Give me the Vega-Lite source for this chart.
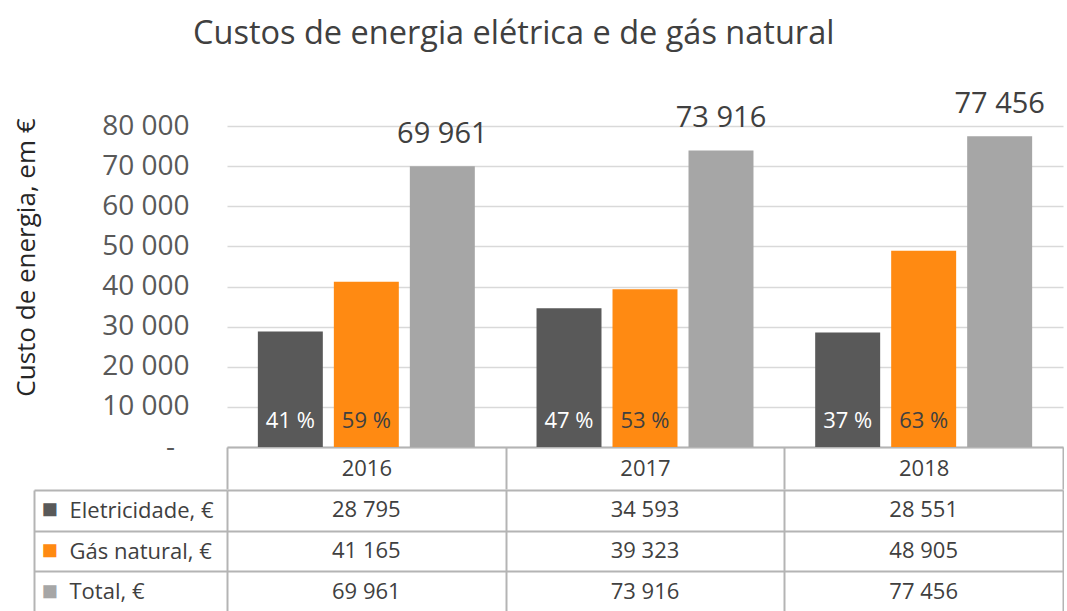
{
  "$schema": "https://vega.github.io/schema/vega-lite/v6.json",
  "padding": {"left": 13, "top": 17, "right": 0, "bottom": 0},
  "background": "white",
  "config": {
    "font": "Open Sans",
    "locale": {"number": {"decimal": ",", "thousands": " ", "grouping": [3], "currency": ["", " €"]}},
    "view": {"stroke": null}
  },
  "title": {
    "text": "Custos de energia elétrica e de gás natural",
    "fontSize": 32.5,
    "fontWeight": "normal",
    "color": "#404040",
    "anchor": "start",
    "frame": "bounds",
    "dx": 180,
    "offset": 40
  },
  "datasets": {
    "costs": [
      {"year": "2016", "series": "Eletricidade, €", "value": 28795, "pct": "41 %"},
      {"year": "2016", "series": "Gás natural, €", "value": 41165, "pct": "59 %"},
      {"year": "2016", "series": "Total, €", "value": 69961, "pct": ""},
      {"year": "2017", "series": "Eletricidade, €", "value": 34593, "pct": "47 %"},
      {"year": "2017", "series": "Gás natural, €", "value": 39323, "pct": "53 %"},
      {"year": "2017", "series": "Total, €", "value": 73916, "pct": ""},
      {"year": "2018", "series": "Eletricidade, €", "value": 28551, "pct": "37 %"},
      {"year": "2018", "series": "Gás natural, €", "value": 48905, "pct": "63 %"},
      {"year": "2018", "series": "Total, €", "value": 77456, "pct": ""}
    ]
  },
  "spacing": -11,
  "vconcat": [
    {
      "width": 836,
      "height": 321,
      "data": {"name": "costs"},
      "encoding": {
        "x": {
          "field": "year", "type": "nominal",
          "scale": {"paddingInner": 0, "paddingOuter": 0},
          "axis": {
            "title": null, "orient": "bottom", "grid": false, "minExtent": 0,
            "domain": true, "domainColor": "#b4b4b4", "domainWidth": 2,
            "ticks": true, "tickBand": "extent", "tickSize": 42, "tickColor": "#b4b4b4", "tickWidth": 2,
            "labelAngle": 0, "labelFontSize": 22, "labelColor": "#404040", "labelPadding": -21, "labelBaseline": "middle"
          }
        },
        "xOffset": {
          "field": "series", "type": "nominal",
          "sort": ["Eletricidade, €", "Gás natural, €", "Total, €"],
          "scale": {"paddingInner": 0.145, "paddingOuter": 0.406}
        }
      },
      "layer": [
        {
          "mark": {"type": "bar"},
          "encoding": {
            "y": {
              "field": "value", "type": "quantitative",
              "scale": {"domain": [0, 80000], "nice": false},
              "axis": {
                "values": [0, 10000, 20000, 30000, 40000, 50000, 60000, 70000, 80000],
                "labelExpr": "datum.value === 0 ? '-\u00a0\u00a0\u200b' : format(datum.value, ',')",
                "domain": false, "ticks": false,
                "grid": true, "gridColor": "#d9d9d9", "gridWidth": 1.5,
                "labelFontSize": 28, "labelColor": "#595959", "labelPadding": 38,
                "title": "Custo de energia, em €", "titleFontSize": 26, "titleFontWeight": "normal", "titleColor": "#262626",
                "titleX": -201, "titleY": 131, "titleAngle": -90, "titleAlign": "center", "titleBaseline": "middle"
              }
            },
            "color": {
              "field": "series", "type": "nominal",
              "scale": {"domain": ["Eletricidade, €", "Gás natural, €", "Total, €"], "range": ["#595959", "#ff8a12", "#a6a6a6"]},
              "legend": null
            }
          }
        },
        {
          "transform": [{"filter": "datum.pct != ''"}],
          "mark": {"type": "text", "fontSize": 22, "baseline": "middle", "dy": -26},
          "encoding": {
            "y": {"datum": 0, "type": "quantitative"},
            "text": {"field": "pct"},
            "color": {"condition": {"test": "datum.series == 'Eletricidade, €'", "value": "#ffffff"}, "value": "#404040"}
          }
        },
        {
          "transform": [{"filter": "datum.series == 'Total, €'"}],
          "mark": {"type": "text", "fontSize": 29, "baseline": "middle", "dy": -32, "color": "#404040"},
          "encoding": {
            "y": {"field": "value", "type": "quantitative"},
            "text": {"field": "value", "type": "quantitative", "format": ","}
          }
        }
      ]
    },
    {
      "width": 836,
      "height": 122,
      "data": {"name": "costs"},
      "encoding": {
        "x": {
          "field": "year", "type": "nominal",
          "scale": {"paddingInner": 0, "paddingOuter": 0},
          "axis": {
            "title": null, "orient": "top", "domain": false, "ticks": false, "labels": false, "minExtent": 0, "maxExtent": 0,
            "grid": true, "tickBand": "extent", "gridColor": "#b4b4b4", "gridWidth": 2
          }
        }
      },
      "layer": [
        {
          "mark": {"type": "rect", "opacity": 0},
          "encoding": {
            "y": {
              "field": "series", "type": "nominal",
              "sort": ["Eletricidade, €", "Gás natural, €", "Total, €"],
              "scale": {"paddingInner": 0, "paddingOuter": 0},
              "axis": {
                "orient": "left", "offset": 193, "title": null,
                "domain": false, "ticks": false, "grid": false,
                "labelExpr": "'■'", "labelAlign": "left", "labelBaseline": "middle", "labelPadding": -7, "labelFontSize": 27,
                "labelColor": {"expr": "datum.value == 'Eletricidade, €' ? '#595959' : datum.value == 'Gás natural, €' ? '#ff8a12' : '#a6a6a6'"}
              }
            }
          }
        },
        {
          "mark": {"type": "text", "fontSize": 22, "color": "#404040", "baseline": "middle"},
          "encoding": {
            "y": {
              "field": "series", "type": "nominal",
              "sort": ["Eletricidade, €", "Gás natural, €", "Total, €"],
              "axis": {
                "orient": "left", "offset": 193, "title": null,
                "domain": true, "domainColor": "#b4b4b4", "domainWidth": 2,
                "ticks": true, "tickBand": "extent", "tickSize": -193, "tickColor": "#b4b4b4", "tickWidth": 2,
                "grid": true, "gridColor": "#b4b4b4", "gridWidth": 2,
                "labelAlign": "left", "labelBaseline": "middle", "labelPadding": 158, "labelFontSize": 22, "labelColor": "#404040"
              }
            },
            "text": {"field": "value", "type": "quantitative", "format": ","}
          }
        }
      ],
      "resolve": {"axis": {"y": "independent"}}
    }
  ]
}
